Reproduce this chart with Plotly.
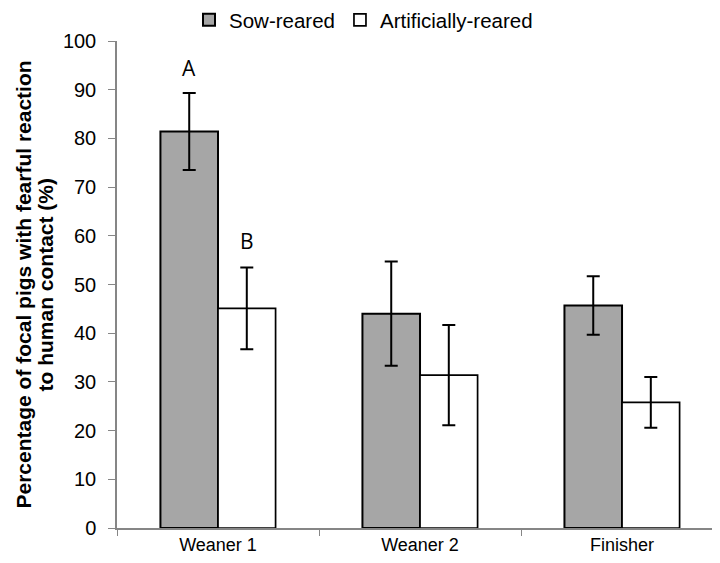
import plotly.graph_objects as go

categories = ["Weaner 1", "Weaner 2", "Finisher"]
sow_values = [81.4, 44.0, 45.7]
sow_errors = [7.9, 10.7, 6.0]
art_values = [45.1, 31.4, 25.8]
art_errors = [8.4, 10.3, 5.2]
letters = [("A", 0, "sow", 94.5), ("B", 0, "art", 59.0)]
y_ticks = list(range(0, 101, 10))
title_lines = ["Percentage of focal pigs with fearful reaction", "to human contact (%)"]

FONT = "Liberation Sans, Arial, sans-serif"

# The page body has an 8px margin, so the figure is sized to fit the window.
W, H = 712, 555
ML, MT, MB = 109, 33, 35
PLOT_H = H - MT - MB

fig = go.Figure()
fig.add_bar(
    x=categories, y=sow_values, name="Sow-reared",
    marker=dict(color="#a6a6a6", line=dict(color="black", width=2)),
    error_y=dict(type="data", array=sow_errors, color="black", thickness=2, width=6.5),
)
fig.add_bar(
    x=categories, y=art_values, name="Artificially-reared",
    marker=dict(color="white", line=dict(color="black", width=1.7)),
    error_y=dict(type="data", array=art_errors, color="black", thickness=2, width=6.5),
)

for text, idx, series, yv in letters:
    off = -0.1425 if series == "sow" else 0.1425
    fig.add_annotation(
        x=idx + off, y=yv, text=text, showarrow=False, xref="x", yref="y",
        font=dict(family="Open Sans, sans-serif", size=21, color="black"),
    )

# y-axis title as two tightly spaced rotated lines
for i, (line, xs) in enumerate(zip(title_lines, [-94, -72])):
    fig.add_annotation(
        x=0, y=0.5, xref="paper", yref="paper", xshift=xs, text=f"<b>{line}</b>",
        textangle=-90, showarrow=False, xanchor="center", yanchor="middle",
        font=dict(family=FONT, size=21, color="black"),
    )

fig.update_layout(
    width=W, height=H,
    margin=dict(l=ML, r=0, t=MT, b=MB, autoexpand=False),
    paper_bgcolor="white", plot_bgcolor="white",
    barmode="group", bargap=0.43, bargroupgap=0,
    showlegend=True,
    legend=dict(orientation="h", xref="container", yref="paper",
                x=181 / W, xanchor="left", y=1 + 21 / PLOT_H, yanchor="middle",
                font=dict(family=FONT, size=20.5, color="black"),
                itemwidth=30, traceorder="normal", tracegroupgap=0,
                borderwidth=0),
    xaxis=dict(
        range=[-0.5, 2.485], showline=True, linecolor="#868686", linewidth=1.5,
        ticks="outside", tickson="boundaries", ticklen=6, tickcolor="#868686",
        tickfont=dict(family=FONT, size=18, color="black"),
        showgrid=False, zeroline=False,
    ),
    yaxis=dict(
        range=[0, 100], tickvals=y_ticks, showline=True, linecolor="#868686", linewidth=1.5,
        ticks="outside", ticklen=7, tickcolor="#868686", ticklabelstandoff=8,
        tickfont=dict(family=FONT, size=20, color="black"),
        showgrid=False, zeroline=False,
    ),
)

fig.write_html("out.html")
